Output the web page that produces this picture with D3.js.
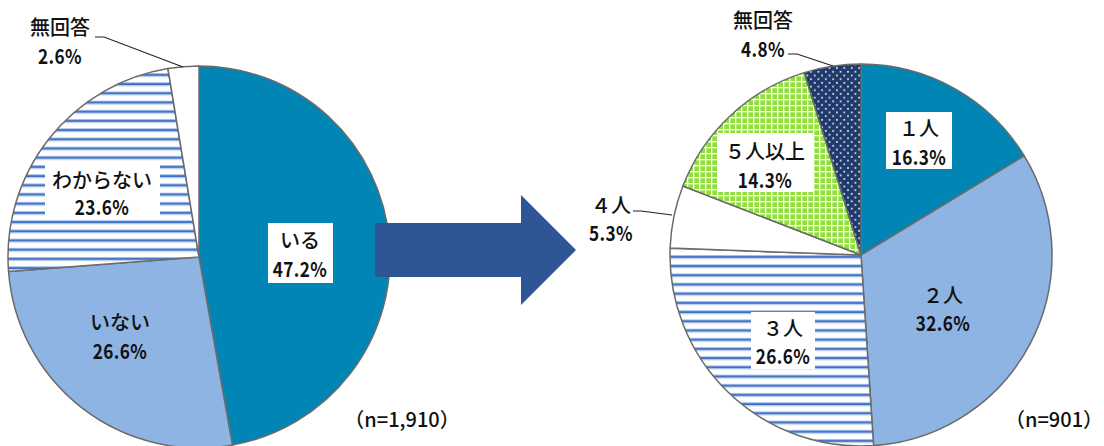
<!DOCTYPE html>
<html><head><meta charset="utf-8">
<script src="https://cdn.jsdelivr.net/npm/d3@7"></script>
<style>body{margin:0;background:#fff}svg{display:block}text{font-family:"Noto Sans CJK JP","Noto Sans",sans-serif;fill:#111}</style>
</head><body><svg id="c" width="1104" height="446"></svg>
<script>
// ---- data ----
const leftCategories = ["いる", "いない", "わからない", "無回答"];
const leftValues = [47.2, 26.6, 23.6, 2.6];
const rightCategories = ["１人", "２人", "３人", "４人", "５人以上", "無回答"];
const rightValues = [16.3, 32.6, 26.6, 5.3, 14.3, 4.8];
const sampleLabels = ["（n=1,910）", "（n=901）"];

// ---- styling / layout ----
const leftFills = ["#0085B5", "#8DB4E2", "url(#stripes)", "#ffffff"];
const rightFills = ["#0085B5", "#8DB4E2", "url(#stripes)", "#ffffff", "url(#grid)", "url(#dots)"];
const leftLayout = [
  {x: 300, y1: 239, y2: 268, box: [268, 223, 333, 283]},
  {x: 120, y1: 321, y2: 350, box: null},
  {x: 102, y1: 179, y2: 206, box: [45, 162, 160, 218]},
  {x: 60, y1: 26, y2: 55, box: null, leader: [[95, 37], [104, 37], [183, 67]]}
];
const rightLayout = [
  {x: 919, y1: 127, y2: 156, box: [886, 112, 952, 169]},
  {x: 943, y1: 294, y2: 322, box: null},
  {x: 783, y1: 327, y2: 355, box: [751, 312, 815, 369]},
  {x: 611, y1: 204, y2: 232, box: null, leader: [[633, 211], [641, 211], [672, 215]]},
  {x: 765, y1: 150, y2: 179, box: [718, 133, 813, 192]},
  {x: 763, y1: 19, y2: 48, box: null, leader: [[788, 54], [797, 54], [833, 66]]}
];

const svg = d3.select("#c");
const defs = svg.append("defs");
const ps = defs.append("pattern").attr("id", "stripes").attr("patternUnits", "userSpaceOnUse")
  .attr("width", 9).attr("height", 9.2);
ps.append("rect").attr("width", 9).attr("height", 9.2).attr("fill", "#fff");
ps.append("rect").attr("y", 0).attr("width", 9).attr("height", 1).attr("fill", "#A7C1EA");
ps.append("rect").attr("y", 1).attr("width", 9).attr("height", 2).attr("fill", "#3F6FC2");
ps.append("rect").attr("y", 3).attr("width", 9).attr("height", 1).attr("fill", "#A7C1EA");
const pg = defs.append("pattern").attr("id", "grid").attr("patternUnits", "userSpaceOnUse")
  .attr("width", 6).attr("height", 6);
pg.append("rect").attr("width", 6).attr("height", 6).attr("fill", "#fff");
pg.append("rect").attr("x", 1.3).attr("y", 1.3).attr("width", 4.7).attr("height", 4.7).attr("fill", "#8FE03A");
const pd = defs.append("pattern").attr("id", "dots").attr("patternUnits", "userSpaceOnUse")
  .attr("width", 7.4).attr("height", 7.4);
pd.append("rect").attr("width", 7.4).attr("height", 7.4).attr("fill", "#1F3A6B");
pd.append("circle").attr("cx", 1.8).attr("cy", 1.8).attr("r", 1).attr("fill", "#D8DEEA");
pd.append("circle").attr("cx", 5.5).attr("cy", 5.5).attr("r", 1).attr("fill", "#D8DEEA");

const R = 191;
const pie = d3.pie().sort(null).value(d => d);
const arc = d3.arc().innerRadius(0).outerRadius(R);

function numText(sel, x, y, str, size) {
  sel.append("text").attr("transform", `translate(${x},${y}) scale(0.86,1)`)
    .attr("text-anchor", "middle").attr("dominant-baseline", "central")
    .attr("font-size", size).attr("font-weight", 700).attr("letter-spacing", 0.5).text(str);
}

function drawPie(cx, cy, cats, vals, fills, layout) {
  const g = svg.append("g").attr("transform", `translate(${cx},${cy})`);
  g.selectAll("path").data(pie(vals)).join("path")
    .attr("d", arc).attr("fill", (d, i) => fills[i])
    .attr("stroke", "#6b6b6b").attr("stroke-width", 1.5).attr("stroke-linejoin", "round");
  const lg = svg.append("g");
  cats.forEach((c, i) => {
    const L = layout[i];
    if (L.box) lg.append("rect").attr("x", L.box[0]).attr("y", L.box[1])
      .attr("width", L.box[2] - L.box[0]).attr("height", L.box[3] - L.box[1]).attr("fill", "#fff");
    if (L.leader) lg.append("path").attr("d", d3.line()(L.leader)).attr("fill", "none")
      .attr("stroke", "#222").attr("stroke-width", 1.2);
    lg.append("text").attr("x", L.x).attr("y", L.y1).attr("text-anchor", "middle")
      .attr("dominant-baseline", "central").attr("font-size", 20).attr("font-weight", 500).text(c);
    numText(lg, L.x, L.y2, d3.format(".1f")(vals[i]) + "%", 20);
  });
}

drawPie(199, 257, leftCategories, leftValues, leftFills, leftLayout);
drawPie(861, 255, rightCategories, rightValues, rightFills, rightLayout);

svg.append("path").attr("fill", "#2E5596")
  .attr("d", "M375,223 L521,223 L521,195 L576,250 L521,305 L521,277 L375,277 Z");

svg.append("text").attr("x", 402).attr("y", 418).attr("text-anchor", "middle")
  .attr("dominant-baseline", "central").attr("font-size", 20).attr("font-weight", 500).text(sampleLabels[0]);
svg.append("text").attr("x", 1054).attr("y", 418).attr("text-anchor", "middle")
  .attr("dominant-baseline", "central").attr("font-size", 20).attr("font-weight", 500).text(sampleLabels[1]);
</script></body></html>
